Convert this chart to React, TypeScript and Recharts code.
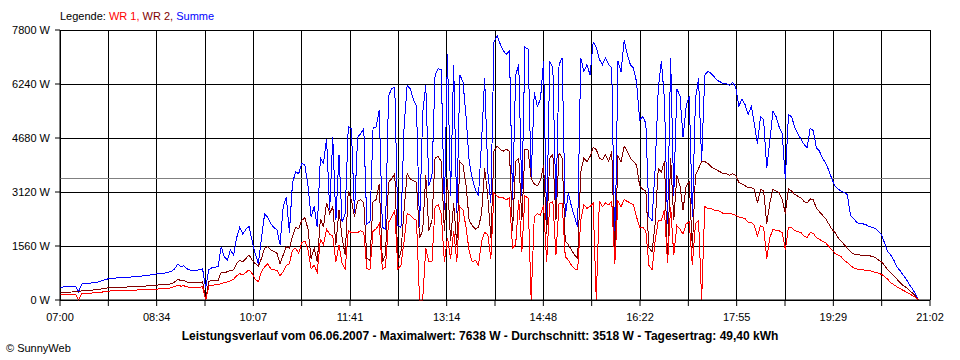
import { LineChart, Line, XAxis, YAxis, CartesianGrid, ReferenceLine } from "recharts";

// one sample every 3 minutes, starting 07:00
const STEP_MIN = 3;
const DAY_SPAN_MIN = 842; // 07:00 .. 21:02

const X_TICK_LABELS = [
  "07:00", "", "08:34", "", "10:07", "", "11:41", "", "13:14", "",
  "14:48", "", "16:22", "", "17:55", "", "19:29", "", "21:02",
];
const Y_TICKS = [0, 1560, 3120, 4680, 6240, 7800];
const AVERAGE_W = 3518;

const summe = [
  370, 375, 380, 385, 395, 400, 240, 460, 470, 480, 490, 500, 515, 540, 570, 600,
  620, 630, 635, 640, 645, 650, 660, 665, 670, 680, 690, 700, 710, 720, 735, 750,
  760, 770, 780, 800, 830, 900, 1040, 960, 990, 900, 860, 850, 860, 870, 900, 340,
  880, 930, 950, 960, 1540, 1250, 1150, 1450, 1300, 1800, 2100, 1900, 2050, 2120, 1700, 1330,
  1050, 1800, 2480, 2400, 2200, 2100, 2020, 1600, 2700, 2980, 1950, 3380, 3700, 3650, 3950, 3900,
  3300, 2400, 2700, 2100, 4100, 3950, 4650, 2600, 4700, 2300, 4200, 2250, 2500, 5000, 4950, 2500,
  4700, 4800, 4950, 2200, 2250, 4970, 5000, 5500, 2100, 2050, 5900, 6100, 6150, 2150, 2100, 5000,
  6200, 6100, 5800, 5600, 2100, 5400, 6200, 3300, 3600, 6500, 6680, 6650, 2600, 7100, 3000, 6800,
  2500, 6500, 6300, 5300, 4000, 3500, 3200, 3000, 4600, 6400, 3700, 2800, 7450, 7638, 7400, 7200,
  7100, 7200, 2900, 6500, 6800, 3000, 7300, 7250, 3500, 6000, 5600, 5800, 6900, 2100, 6900, 6700,
  2700, 6800, 7000, 2400, 3100, 2700, 2400, 2100, 7000, 6600, 6800, 6500, 7450, 7300, 6950, 6800,
  7000, 6800, 6700, 1200, 6900, 6600, 7500, 7100, 6800, 6700, 6300, 5200, 5300, 5100, 2400, 2300,
  3800, 6100, 6900, 5800, 2200, 7000, 3000, 6100, 5900, 4700, 5600, 5900, 2400, 5800, 6400, 4000,
  6500, 6600, 6550, 6450, 6350, 6300, 6250, 6250, 6200, 6280, 6150, 5600, 5800, 5650, 5350, 5600,
  5100, 4500, 5300, 5200, 3800, 4600, 5450, 5300, 5000, 4800, 3500, 5350, 5300, 5000, 4800, 4650,
  4500, 4400, 4950, 4900, 4400, 4300, 4100, 3950, 3750, 3500, 3300, 3200, 3150, 3100, 3050, 2450,
  2350, 2250, 2200, 2200, 2180, 2120, 2100, 2070, 1980, 1900, 1650, 1400, 1300, 1150, 950, 850,
  720, 600, 450, 320, 180, 0,
];

const wr2 = [
  220, 222, 225, 228, 232, 235, 235, 270, 275, 280, 285, 290, 300, 315, 330, 345,
  355, 360, 365, 368, 370, 372, 378, 380, 385, 390, 395, 400, 405, 410, 420, 430,
  435, 440, 445, 455, 470, 520, 600, 560, 570, 520, 500, 495, 500, 510, 520, 0,
  540, 560, 560, 570, 800, 780, 820, 850, 870, 1060, 1150, 1100, 1200, 1300, 1150, 1050,
  980, 1200, 1500, 1540, 1450, 1400, 1350, 1050, 1300, 1540, 1500, 1830, 2100, 2050, 2300, 2380,
  2050, 1200, 1500, 1100, 2350, 2100, 2800, 2500, 2700, 1600, 2600, 1800, 1300, 3150, 2900, 2400,
  2850, 2900, 2800, 1200, 1150, 2850, 2900, 3350, 1100, 1300, 3400, 3500, 3650, 1100, 1400, 2600,
  3650, 3500, 3450, 3400, 1800, 2000, 3600, 2000, 2300, 4100, 4150, 4000, 2000, 3500, 1700, 2800,
  1600, 4000, 3900, 3300, 2300, 2150, 2050, 2100, 2500, 3800, 3000, 1800, 4300, 4450, 4350, 4300,
  4350, 4300, 2000, 4000, 4100, 2300, 4350, 4330, 3500, 3350, 3300, 3450, 3900, 1900, 4100, 4200,
  2300, 4250, 4100, 1700, 1600, 1450, 1300, 1200, 3700, 4100, 4000, 4150, 4400, 4350, 4100, 4050,
  4200, 4000, 4300, 1150, 4150, 4000, 4450, 4300, 4100, 4000, 3900, 3300, 3200, 3150, 1500, 1400,
  2200, 3800, 3700, 4000, 1150, 4100, 2300, 3600, 3300, 2600, 3300, 3400, 1500, 3600, 3800, 4000,
  4000, 3950, 3850, 3800, 3750, 3700, 3650, 3650, 3600, 3650, 3600, 3400, 3350, 3300, 3250, 3250,
  3200, 2800, 3200, 3150, 2200, 2800, 3200, 3150, 3100, 2900, 2500, 3220, 3150, 3050, 3000, 2950,
  2850, 2800, 2920, 2900, 2650, 2550, 2450, 2350, 2200, 2050, 1950, 1800, 1700, 1600, 1500, 1400,
  1330, 1320, 1300, 1300, 1290, 1280, 1260, 1230, 1160, 1100, 1000, 880, 780, 700, 600, 500,
  420, 360, 280, 200, 110, 0,
];

const wr1 = [
  150, 152, 155, 157, 160, 165, 0, 190, 195, 200, 200, 205, 210, 220, 235, 250,
  260, 265, 270, 272, 275, 278, 280, 282, 285, 290, 292, 295, 300, 305, 310, 315,
  320, 325, 330, 340, 355, 390, 430, 400, 410, 380, 360, 355, 365, 370, 385, 0,
  400, 430, 435, 440, 480, 500, 520, 560, 600, 700, 760, 720, 800, 870, 760, 600,
  530, 820, 960, 1050, 900, 870, 860, 700, 820, 1000, 1050, 1440, 1500, 1350, 1650, 1700,
  1450, 900, 1000, 800, 1750, 1600, 2050, 1900, 1850, 1100, 1600, 1050, 900, 2000, 1950, 1950,
  1950, 2000, 1950, 900, 880, 2000, 2050, 2200, 880, 950, 2250, 2400, 2600, 900, 1000, 1700,
  2500, 2450, 2350, 2300, 0, 0, 1500, 1100, 1100, 2700, 2750, 2500, 1100, 1800, 1200, 2000,
  1100, 2700, 2600, 2100, 1400, 1100, 1150, 1000, 1700, 1950, 1900, 1200, 3100, 3000, 2950, 2950,
  2900, 2950, 1500, 1600, 2900, 1400, 3000, 2950, 0, 2400, 2500, 2450, 2750, 1100, 2800, 2850,
  1300, 2800, 2800, 1250, 1150, 1000, 900, 880, 2300, 2750, 2650, 2700, 2800, 0, 2850, 2700,
  2800, 2750, 2850, 1050, 2850, 2700, 2900, 2850, 2800, 2750, 2400, 2100, 2100, 2000, 1000, 880,
  1700, 2300, 2300, 2600, 1060, 2700, 1300, 2150, 2050, 1900, 2200, 2250, 1000, 2200, 2300, 0,
  2700, 2650, 2650, 2600, 2600, 2550, 2500, 2500, 2500, 2480, 2450, 2400, 2380, 2350, 2250, 2250,
  2150, 1850, 2150, 2100, 1200, 1800, 2050, 2000, 2000, 1950, 1450, 2100, 2100, 2000, 1980, 1950,
  1850, 1800, 1950, 1930, 1800, 1750, 1700, 1650, 1550, 1450, 1350, 1300, 1250, 1150, 1080, 1000,
  930, 900, 880, 870, 860, 850, 830, 800, 780, 740, 680, 600, 500, 440, 380, 330,
  280, 230, 180, 130, 70, 0,
];

const data = summe.map((v, i) => ({
  t: i * STEP_MIN,
  summe: v,
  wr1: wr1[i],
  wr2: wr2[i],
}));

const xTicks = X_TICK_LABELS.map((_, k) => (k * DAY_SPAN_MIN) / (X_TICK_LABELS.length - 1));

const FONT = "'Liberation Sans', Arial, sans-serif";

export default function App() {
  return (
    <div
      style={{
        position: "absolute",
        left: 0,
        top: 0,
        width: 960,
        height: 360,
        background: "#fff",
        fontFamily: FONT,
        fontSize: 11,
        color: "#000",
      }}
    >
      <div style={{ position: "absolute", left: 60, top: 10, whiteSpace: "nowrap" }}>
        Legende: <span style={{ color: "#ff0000" }}>WR 1,</span>{" "}
        <span style={{ color: "#800000" }}>WR 2,</span>{" "}
        <span style={{ color: "#0000ff" }}>Summe</span>
      </div>

      <LineChart
        width={960}
        height={360}
        data={data}
        margin={{ top: 30, right: 30, left: 0, bottom: 0 }}
      >
        <CartesianGrid stroke="#000" strokeWidth={1} shapeRendering="crispEdges" />
        <XAxis
          type="number"
          dataKey="t"
          domain={[0, DAY_SPAN_MIN]}
          ticks={xTicks}
          interval={0}
          height={60}
          tickSize={6}
          tickMargin={7}
          tickFormatter={(_v: number, i: number) => X_TICK_LABELS[i]}
          tick={{ fill: "#000", fontSize: 11, fontFamily: FONT }}
          axisLine={{ stroke: "#000" }}
          tickLine={{ stroke: "#000" }}
        />
        <YAxis
          type="number"
          domain={[0, 7800]}
          ticks={Y_TICKS}
          interval={0}
          width={60}
          tickSize={5}
          tickMargin={5}
          tickFormatter={(v: number) => `${v} W`}
          tick={{ fill: "#000", fontSize: 11, fontFamily: FONT }}
          axisLine={{ stroke: "#000" }}
          tickLine={{ stroke: "#000" }}
        />
        <ReferenceLine y={AVERAGE_W} stroke="#808080" strokeWidth={1} shapeRendering="crispEdges" />
        <Line
          type="linear"
          dataKey="summe"
          stroke="#0000ff"
          strokeWidth={1}
          shapeRendering="crispEdges"
          dot={false}
          activeDot={false}
          isAnimationActive={false}
        />
        <Line
          type="linear"
          dataKey="wr2"
          stroke="#800000"
          strokeWidth={1}
          shapeRendering="crispEdges"
          dot={false}
          activeDot={false}
          isAnimationActive={false}
        />
        <Line
          type="linear"
          dataKey="wr1"
          stroke="#ff0000"
          strokeWidth={1}
          shapeRendering="crispEdges"
          dot={false}
          activeDot={false}
          isAnimationActive={false}
        />
      </LineChart>

      <div
        style={{
          position: "absolute",
          left: 0,
          width: 960,
          top: 329,
          textAlign: "center",
          fontWeight: "bold",
          fontSize: 12,
          whiteSpace: "nowrap",
        }}
      >
        Leistungsverlauf vom 06.06.2007 - Maximalwert: 7638 W - Durchschnitt: 3518 W -
        Tagesertrag: 49,40 kWh
      </div>
      <div style={{ position: "absolute", left: 6, top: 342, whiteSpace: "nowrap" }}>
        © SunnyWeb
      </div>
    </div>
  );
}
